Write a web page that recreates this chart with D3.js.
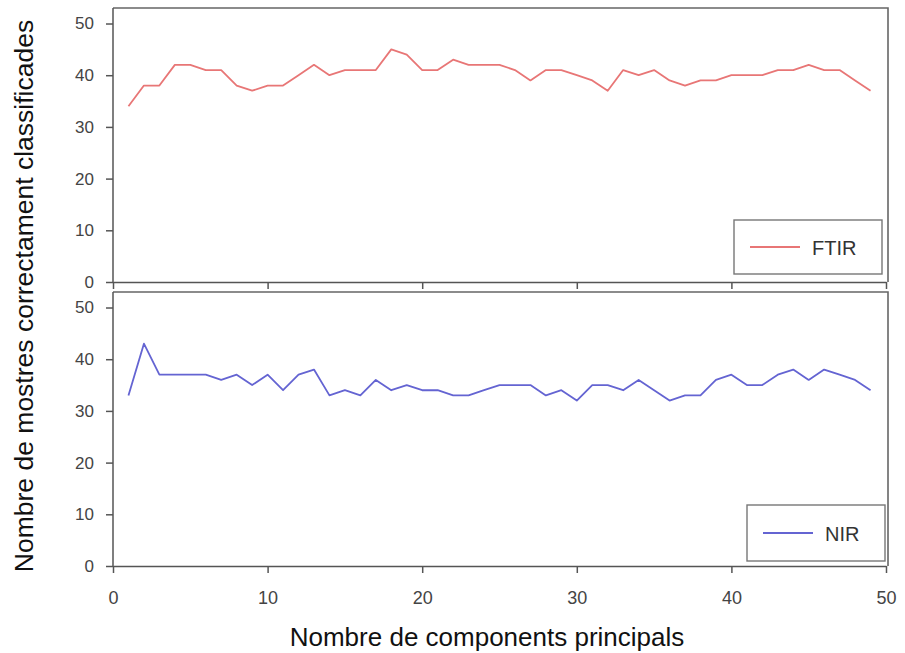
<!DOCTYPE html>
<html>
<head>
<meta charset="utf-8">
<script src="https://cdn.jsdelivr.net/npm/d3@7"></script>
<style>
  body { margin: 0; background: #fff; }
  svg { font-family: Arial, 'Liberation Sans', sans-serif; }
  .frame { fill: none; stroke: #666; stroke-width: 1.6; }
  .axis path, .axis line { stroke: #555; stroke-width: 1.5; }
  .axis text { fill: #444; font-size: 17px; }
  .axis--x text { font-size: 18px; }
</style>
</head>
<body>
<svg id="chart"></svg>
<script>
const components = d3.range(1, 50)
const ftirValues = [34, 38, 38, 42, 42, 41, 41, 38, 37, 38, 38, 40, 42, 40, 41, 41, 41, 45, 44, 41,
    41, 43, 42, 42, 42, 41, 39, 41, 41, 40, 39, 37, 41, 40, 41, 39, 38, 39, 39, 40,
    40, 40, 41, 41, 42, 41, 41, 39, 37]
const nirValues = [33, 43, 37, 37, 37, 37, 36, 37, 35, 37, 34, 37, 38, 33, 34, 33, 36, 34, 35, 34,
    34, 33, 33, 34, 35, 35, 35, 33, 34, 32, 35, 35, 34, 36, 34, 32, 33, 33, 36, 37,
    35, 35, 37, 38, 36, 38, 37, 36, 34]
const xTicks = [0, 10, 20, 30, 40, 50]
const yTicks = [0, 10, 20, 30, 40, 50]

const WIDTH = 905
const HEIGHT = 653

const svg = d3.select('#chart')
    .attr('width', WIDTH)
    .attr('height', HEIGHT)
    .attr('viewBox', `0 0 ${WIDTH} ${HEIGHT}`)

const xScale = d3.scaleLinear().domain([0, 50]).range([113, 886])

function drawPanel(values, color, name, top, bottom, showXLabels, legendBox) {
    const g = svg.append('g')
    const yScale = d3.scaleLinear().domain([0, 53]).range([bottom, top])

    // frame: top and right sides
    g.append('path')
        .attr('class', 'frame')
        .attr('d', `M${xScale(0)},${top}H${xScale(50) + 2}V${bottom}`)

    const xAxis = d3.axisBottom(xScale).tickValues(xTicks).tickSize(7).tickSizeOuter(0)
    if (!showXLabels) xAxis.tickFormat('')
    g.append('g')
        .attr('class', 'axis axis--x')
        .attr('transform', `translate(0,${bottom})`)
        .call(xAxis)
        .call(a => a.selectAll('text').attr('y', 38).attr('dy', 0))

    g.append('g')
        .attr('class', 'axis')
        .attr('transform', `translate(${xScale(0)},0)`)
        .call(d3.axisLeft(yScale).tickValues(yTicks).tickSize(7).tickSizeOuter(0).tickPadding(12))
        .call(a => a.select('.domain').attr('d', `M0,${bottom}V${top}`))

    const line = d3.line()
        .x((d, i) => xScale(components[i]))
        .y(d => yScale(d))

    g.append('path')
        .datum(values)
        .attr('fill', 'none')
        .attr('stroke', color)
        .attr('stroke-width', 1.8)
        .attr('stroke-linejoin', 'round')
        .attr('d', line)

    // legend
    const [lx, ly, lw, lh] = legendBox
    const leg = g.append('g').attr('transform', `translate(${lx},${ly})`)
    leg.append('rect')
        .attr('width', lw).attr('height', lh)
        .attr('fill', '#fff')
        .attr('stroke', '#777').attr('stroke-width', 1.4)
    leg.append('line')
        .attr('x1', 16).attr('x2', 66)
        .attr('y1', lh / 2).attr('y2', lh / 2)
        .attr('stroke', color).attr('stroke-width', 2.2)
    leg.append('text')
        .attr('x', 78).attr('y', lh / 2 + 8)
        .attr('fill', '#333')
        .style('font-size', '20px')
        .text(name)
}

drawPanel(ftirValues, '#e87676', 'FTIR', 8, 282, false, [734, 220, 148, 54])
drawPanel(nirValues, '#6464d2', 'NIR', 292, 566, true, [747, 505, 138, 56])

svg.append('text')
    .attr('transform', 'translate(33,296) rotate(-90)')
    .attr('text-anchor', 'middle')
    .attr('fill', '#111')
    .style('font-size', '26.5px')
    .text('Nombre de mostres correctament classificades')

svg.append('text')
    .attr('x', 487).attr('y', 646)
    .attr('text-anchor', 'middle')
    .attr('fill', '#111')
    .style('font-size', '26px')
    .text('Nombre de components principals')
</script>
</body>
</html>
